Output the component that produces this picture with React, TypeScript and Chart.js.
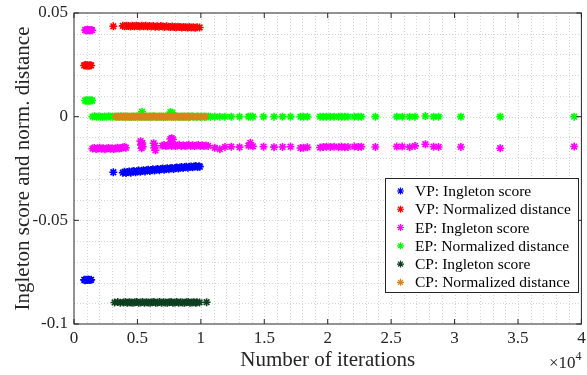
import React, { useEffect, useRef } from 'react';
import { Chart, registerables } from 'chart.js';

Chart.register(...registerables);

const FONT = '"Liberation Serif", "Times New Roman", Times, serif';

const seriesLabels = [
  'VP: Ingleton score',
  'VP: Normalized distance',
  'EP: Ingleton score',
  'EP: Normalized distance',
  'CP: Ingleton score',
  'CP: Normalized distance',
];
const seriesColors = ['#0000ff', '#ff0000', '#ff00ff', '#00ff00', '#0f3f22', '#d9831a'];

const xTickValues = [0, 5000, 10000, 15000, 20000, 25000, 30000, 35000, 40000];
const xTickLabels = ['0', '0.5', '1', '1.5', '2', '2.5', '3', '3.5', '4'];
const yTickValues = [-0.1, -0.05, 0, 0.05];
const yTickLabels = ['-0.1', '-0.05', '0', '0.05'];

type P = [number, number];

const vpIngleton: P[] = [
  [800, -0.0787], [880, -0.0789], [950, -0.0786], [1030, -0.0788], [1100, -0.0787], [1180, -0.0786], [1260, -0.0788], [1350, -0.0787],
  [3100, -0.0268],
  [3850, -0.0270], [3980, -0.0266], [4100, -0.0272], [4230, -0.0267], [4350, -0.0264], [4480, -0.0270], [4600, -0.0265],
  [4720, -0.0262], [4850, -0.0268], [4970, -0.0263], [5100, -0.0260], [5230, -0.0266], [5350, -0.0261], [5480, -0.0258],
  [5600, -0.0264], [5730, -0.0259], [5850, -0.0256], [5980, -0.0262], [6100, -0.0257], [6220, -0.0254], [6350, -0.0260],
  [6480, -0.0255], [6600, -0.0252], [6730, -0.0258], [6850, -0.0253], [6980, -0.0250], [7100, -0.0256], [7230, -0.0251],
  [7350, -0.0249], [7480, -0.0254], [7600, -0.0249], [7720, -0.0247], [7850, -0.0252], [7980, -0.0247], [8100, -0.0245],
  [8230, -0.0250], [8350, -0.0245], [8480, -0.0243], [8600, -0.0248], [8730, -0.0243], [8850, -0.0241], [8980, -0.0246],
  [9100, -0.0242], [9230, -0.0240], [9350, -0.0244], [9480, -0.0240], [9600, -0.0238], [9730, -0.0243], [9850, -0.0239],
  [9920, -0.0241],
];

const vpNormDist: P[] = [
  [800, 0.0247], [880, 0.0249], [950, 0.0246], [1030, 0.0248], [1100, 0.0247], [1180, 0.0246], [1260, 0.0248], [1350, 0.0247],
  [3100, 0.0436],
  [3850, 0.0438], [4000, 0.0436], [4150, 0.0439], [4300, 0.0437], [4450, 0.0435], [4600, 0.0438], [4750, 0.0436],
  [4900, 0.0439], [5050, 0.0437], [5200, 0.0435], [5350, 0.0438], [5500, 0.0436], [5650, 0.0438], [5800, 0.0435],
  [5950, 0.0437], [6100, 0.0435], [6250, 0.0437], [6400, 0.0434], [6550, 0.0436], [6700, 0.0434], [6850, 0.0437],
  [7000, 0.0435], [7150, 0.0433], [7300, 0.0436], [7450, 0.0434], [7600, 0.0432], [7750, 0.0435], [7900, 0.0433],
  [8050, 0.0431], [8200, 0.0434], [8350, 0.0432], [8500, 0.0430], [8650, 0.0433], [8800, 0.0431], [8950, 0.0430],
  [9100, 0.0432], [9250, 0.0430], [9400, 0.0431], [9550, 0.0429], [9700, 0.0431], [9900, 0.0430],
];

const epIngleton: P[] = [
  [880, 0.0418], [950, 0.0416], [1030, 0.0419], [1100, 0.0417], [1180, 0.0418], [1260, 0.0416], [1350, 0.0418], [1430, 0.0417],
  [1460, -0.0154], [1600, -0.0151], [1740, -0.0156], [1880, -0.0153], [2020, -0.0150], [2160, -0.0155], [2300, -0.0152],
  [2440, -0.0157], [2580, -0.0154], [2720, -0.0151], [2860, -0.0155], [3000, -0.0152], [3140, -0.0156], [3280, -0.0153],
  [3420, -0.0150], [3560, -0.0154], [3700, -0.0151], [3840, -0.0149], [3970, -0.0146], [4090, -0.0150],
  [5250, -0.0118], [5290, -0.0136], [5330, -0.0152], [5380, -0.0127], [5420, -0.0145],
  [6280, -0.0128], [6330, -0.0150], [6380, -0.0140], [6420, -0.0162],
  [6960, -0.0140], [7100, -0.0137], [7250, -0.0142], [7400, -0.0139], [7550, -0.0136], [7600, -0.0108], [7700, -0.0104],
  [7800, -0.0110], [7700, -0.0141], [7850, -0.0138], [8000, -0.0142], [8150, -0.0139], [8300, -0.0136], [8450, -0.0141],
  [8600, -0.0138], [8750, -0.0142], [8900, -0.0139], [9050, -0.0136], [9200, -0.0141], [9350, -0.0138], [9500, -0.0142],
  [9650, -0.0139], [9800, -0.0137], [9950, -0.0141], [10100, -0.0138], [10250, -0.0142], [10400, -0.0139], [10570, -0.0141],
  [11100, -0.0150], [11500, -0.0157], [11900, -0.0146], [12400, -0.0145], [13050, -0.0147], [13750, -0.0140],
  [13900, -0.0126], [14100, -0.0143], [14940, -0.0145], [15770, -0.0147], [16440, -0.0146], [17070, -0.0145],
  [17850, -0.0151], [18100, -0.0150], [18400, -0.0148], [19400, -0.0149], [19650, -0.0146], [19900, -0.0145],
  [20200, -0.0146], [20500, -0.0145], [20850, -0.0147], [21100, -0.0145], [21350, -0.0148], [21600, -0.0146],
  [22100, -0.0144], [22400, -0.0146], [22650, -0.0145], [23760, -0.0146], [25440, -0.0144], [25880, -0.0144],
  [26460, -0.0147], [26880, -0.0141], [27700, -0.0133], [28350, -0.0145], [28740, -0.0146], [30500, -0.0146],
  [33600, -0.0152], [39430, -0.0144],
];

const epNormDist: P[] = [
  [880, 0.0078], [950, 0.0077], [1030, 0.0079], [1100, 0.0077], [1180, 0.0078], [1260, 0.0077], [1350, 0.0079], [1430, 0.0078],
  [1460, 0.0000], [1620, 0.0002], [1780, -0.0001], [1940, 0.0001], [2100, 0.0000], [2260, -0.0002], [2420, 0.0001],
  [2580, 0.0000], [2740, 0.0002], [2900, -0.0001], [3060, 0.0000], [3220, 0.0001], [3380, -0.0001], [3540, 0.0000],
  [3700, 0.0002], [3860, 0.0000], [4020, -0.0001], [4180, 0.0001], [4340, 0.0000], [4500, -0.0002], [4660, 0.0001],
  [4820, 0.0000], [4980, 0.0002], [5140, -0.0001], [5300, 0.0000], [5370, 0.0024], [5460, 0.0001], [5620, 0.0000],
  [5780, -0.0001], [5940, 0.0001], [6100, 0.0000], [6260, 0.0002], [6420, -0.0001], [6580, 0.0000], [6740, 0.0001],
  [6900, 0.0000], [7060, -0.0002], [7220, 0.0001], [7380, 0.0000], [7540, 0.0001], [7600, 0.0022], [7700, -0.0001],
  [7750, 0.0019], [7860, 0.0000], [8020, 0.0002], [8180, 0.0000], [8340, -0.0001], [8500, 0.0001], [8660, 0.0000],
  [8820, -0.0001], [8980, 0.0001], [9140, 0.0000], [9300, 0.0002], [9460, -0.0001], [9620, 0.0000], [9780, 0.0001],
  [9940, 0.0000], [10100, -0.0001], [10260, 0.0001], [10420, 0.0000], [10580, 0.0001], [10760, 0.0000],
  [11100, 0.0000], [11500, 0.0000], [11900, 0.0000], [12400, 0.0000], [13050, 0.0000], [13750, 0.0000],
  [13900, 0.0001], [14100, 0.0000], [14940, 0.0000], [15770, 0.0000], [16440, 0.0000], [17070, 0.0000],
  [17850, 0.0000], [18100, 0.0000], [18400, 0.0000], [19400, 0.0000], [19650, 0.0000], [19900, 0.0000],
  [20200, 0.0000], [20500, 0.0000], [20850, 0.0000], [21100, 0.0000], [21350, 0.0000], [21600, 0.0000],
  [22100, 0.0000], [22400, 0.0000], [22650, 0.0000], [23760, 0.0000], [25440, 0.0000], [25880, 0.0000],
  [26460, 0.0000], [26880, 0.0000], [27700, 0.0003], [28350, 0.0000], [28740, 0.0000], [30500, 0.0000],
  [33600, 0.0000], [39430, 0.0000],
];

const cpIngleton: P[] = [
  [3200, -0.0896], [3450, -0.0894], [3650, -0.0897],
  [3900, -0.0896], [4050, -0.0894], [4200, -0.0897], [4350, -0.0895], [4500, -0.0896], [4650, -0.0898], [4800, -0.0895],
  [4950, -0.0894], [5100, -0.0897], [5250, -0.0896], [5400, -0.0894], [5550, -0.0897], [5700, -0.0895], [5850, -0.0896],
  [6000, -0.0898], [6150, -0.0895], [6300, -0.0894], [6450, -0.0897], [6600, -0.0896], [6750, -0.0894], [6900, -0.0897],
  [7050, -0.0895], [7200, -0.0896], [7350, -0.0898], [7500, -0.0895], [7650, -0.0894], [7800, -0.0897], [7950, -0.0896],
  [8100, -0.0894], [8250, -0.0897], [8400, -0.0895], [8550, -0.0896], [8700, -0.0898], [8850, -0.0895], [9000, -0.0894],
  [9150, -0.0897], [9300, -0.0896], [9450, -0.0895], [9600, -0.0897], [9700, -0.0895],
  [9900, -0.0896], [10450, -0.0895],
];

const cpNormDist: P[] = [
  [3330, 0.0000], [3480, 0.0001], [3630, -0.0001], [3780, 0.0000], [3930, 0.0001], [4080, 0.0000], [4230, -0.0001],
  [4380, 0.0000], [4530, 0.0001], [4680, 0.0000], [4830, -0.0001], [4980, 0.0000], [5130, 0.0001], [5280, 0.0000],
  [5430, -0.0001], [5580, 0.0000], [5730, 0.0001], [5880, 0.0000], [6030, -0.0001], [6180, 0.0000], [6330, 0.0001],
  [6480, 0.0000], [6630, -0.0001], [6780, 0.0000], [6930, 0.0001], [7080, 0.0000], [7230, -0.0001], [7380, 0.0000],
  [7530, 0.0001], [7680, 0.0000], [7830, -0.0001], [7980, 0.0000], [8130, 0.0001], [8280, 0.0000], [8430, -0.0001],
  [8580, 0.0000], [8730, 0.0001], [8880, 0.0000], [9030, -0.0001], [9150, 0.0000],
  [9400, 0.0000], [9700, 0.0000], [10000, 0.0000], [10300, 0.0000],
];

const allSeries = [vpIngleton, vpNormDist, epIngleton, epNormDist, cpIngleton, cpNormDist];

function drawStar(ctx: CanvasRenderingContext2D, x: number, y: number, r: number) {
  const d = r * Math.SQRT1_2;
  ctx.beginPath();
  ctx.moveTo(x - r, y); ctx.lineTo(x + r, y);
  ctx.moveTo(x, y - r); ctx.lineTo(x, y + r);
  ctx.moveTo(x - d, y - d); ctx.lineTo(x + d, y + d);
  ctx.moveTo(x - d, y + d); ctx.lineTo(x + d, y - d);
  ctx.stroke();
}

const framePlugin = {
  id: 'matlabFrame',
  beforeDatasetsDraw(chart: any) {
    const { ctx, chartArea: a, scales } = chart;
    const xs = scales.x, ys = scales.y;
    ctx.save();
    ctx.strokeStyle = '#d4d4d4';
    ctx.lineWidth = 1;
    ctx.setLineDash([1, 2]);
    for (let v = 1000; v < 40000; v += 1000) {
      const px = Math.round(xs.getPixelForValue(v)) + 0.5;
      ctx.beginPath(); ctx.moveTo(px, a.top); ctx.lineTo(px, a.bottom); ctx.stroke();
    }
    for (let k = -9; k <= 4; k++) {
      const py = Math.round(ys.getPixelForValue(k / 100)) + 0.5;
      ctx.beginPath(); ctx.moveTo(a.left, py); ctx.lineTo(a.right, py); ctx.stroke();
    }
    ctx.restore();
  },
  afterDatasetsDraw(chart: any) {
    const { ctx, chartArea: a, scales } = chart;
    const xs = scales.x, ys = scales.y;
    ctx.save();
    ctx.strokeStyle = '#262626';
    ctx.lineWidth = 1;
    ctx.strokeRect(a.left, a.top, a.right - a.left, a.bottom - a.top);
    const tl = 5;
    ctx.beginPath();
    for (const v of xTickValues) {
      const px = xs.getPixelForValue(v);
      ctx.moveTo(px, a.bottom); ctx.lineTo(px, a.bottom - tl);
      ctx.moveTo(px, a.top); ctx.lineTo(px, a.top + tl);
    }
    for (const v of yTickValues) {
      const py = ys.getPixelForValue(v);
      ctx.moveTo(a.left, py); ctx.lineTo(a.left + tl, py);
      ctx.moveTo(a.right, py); ctx.lineTo(a.right - tl, py);
    }
    ctx.stroke();
    ctx.restore();
  },
  afterDraw(chart: any) {
    const { ctx } = chart;
    ctx.save();
    const lx = 385, ly = 178, lw = 193, lh = 114;
    ctx.fillStyle = '#ffffff';
    ctx.fillRect(lx, ly, lw, lh);
    ctx.strokeStyle = '#262626';
    ctx.lineWidth = 1;
    ctx.strokeRect(lx + 0.5, ly + 0.5, lw, lh);
    ctx.font = `15.5px ${FONT}`;
    ctx.textBaseline = 'middle';
    ctx.textAlign = 'left';
    chart.data.datasets.forEach((ds: any, i: number) => {
      const cy = 191 + i * 18.26;
      ctx.strokeStyle = ds.borderColor;
      ctx.lineWidth = 1.2;
      drawStar(ctx, 400.5, cy, 3.5);
      ctx.fillStyle = '#000000';
      ctx.fillText(ds.label, 415, cy + 1);
    });
    ctx.fillStyle = '#262626';
    ctx.textBaseline = 'alphabetic';
    ctx.font = `17px ${FONT}`;
    const base = '\u00d710';
    ctx.fillText(base, 549, 368);
    const w = ctx.measureText(base).width;
    ctx.font = `12px ${FONT}`;
    ctx.fillText('4', 549 + w, 360);
    ctx.restore();
  },
};

export default function App() {
  const ref = useRef<HTMLCanvasElement>(null);
  useEffect(() => {
    if (!ref.current) return;
    const chart = new Chart(ref.current, {
      type: 'scatter',
      data: {
        datasets: allSeries.map((s, i) => ({
          label: seriesLabels[i],
          data: s.map(([x, y]) => ({ x, y })),
          borderColor: seriesColors[i],
          backgroundColor: seriesColors[i],
          pointStyle: 'star',
          pointRadius: 4,
          pointBorderWidth: 1.6,
          order: 6 - i,
        })),
      },
      options: {
        responsive: false,
        animation: false,
        devicePixelRatio: 1,
        layout: { padding: { top: 13, right: 1, left: 0, bottom: 0 } },
        plugins: { legend: { display: false }, tooltip: { enabled: false } },
        scales: {
          x: {
            type: 'linear',
            min: 0,
            max: 40000,
            afterBuildTicks: (s: any) => { s.ticks = xTickValues.map((v) => ({ value: v })); },
            afterFit: (s: any) => { s.height = 51; s.paddingLeft = 0; s.paddingRight = 0; },
            ticks: {
              callback: (_v: any, i: number) => xTickLabels[i],
              autoSkip: false,
              maxRotation: 0,
              padding: 4,
              color: '#262626',
              font: { family: FONT, size: 17 },
            },
            grid: { display: false, drawTicks: false, tickLength: 0 },
            border: { display: false },
            title: {
              display: true,
              text: 'Number of iterations',
              color: '#262626',
              font: { family: FONT, size: 21 },
              padding: { top: 0, bottom: 2 },
            },
          },
          y: {
            type: 'linear',
            min: -0.1,
            max: 0.05,
            afterBuildTicks: (s: any) => { s.ticks = yTickValues.map((v) => ({ value: v })); },
            afterFit: (s: any) => { s.width = 74; s.paddingTop = 0; s.paddingBottom = 0; },
            ticks: {
              callback: (_v: any, i: number) => yTickLabels[i],
              autoSkip: false,
              padding: 6,
              color: '#262626',
              font: { family: FONT, size: 17 },
            },
            grid: { display: false, drawTicks: false, tickLength: 0 },
            border: { display: false },
            title: {
              display: true,
              text: 'Ingleton score and norm. distance',
              color: '#262626',
              font: { family: FONT, size: 21 },
              padding: { top: 11, bottom: 0 },
            },
          },
        },
      },
      plugins: [framePlugin],
    } as any);
    return () => chart.destroy();
  }, []);
  return (
    <div style={{ position: 'fixed', left: 0, top: 0, width: 587, height: 375, background: '#ffffff' }}>
      <canvas ref={ref} width={587} height={375} style={{ display: 'block' }} />
    </div>
  );
}
